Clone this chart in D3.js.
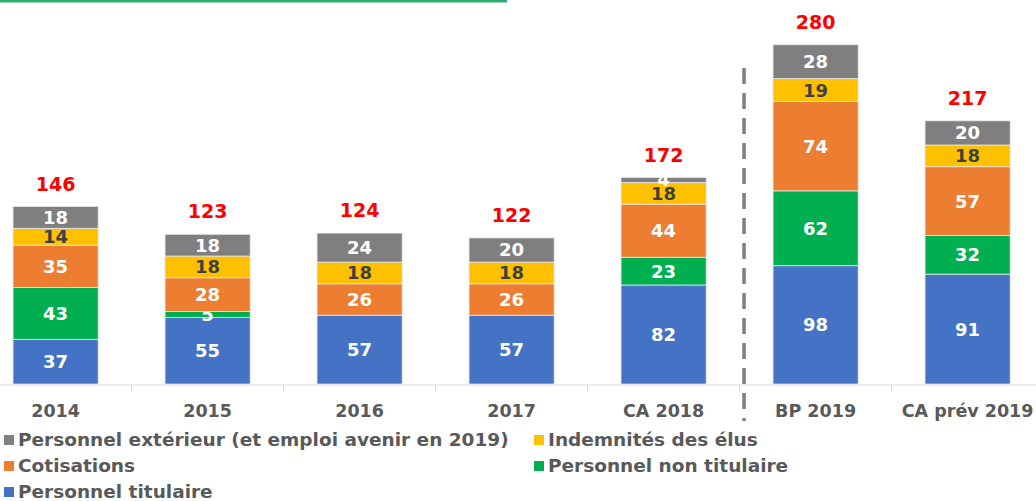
<!DOCTYPE html>
<html>
<head>
<meta charset="utf-8">
<script src="https://cdn.jsdelivr.net/npm/d3@7"></script>
<style>
  body { margin: 0; background: #fff; }
  svg { display: block; }
</style>
</head>
<body>
<script>
// Data
let categories = ['2014', '2015', '2016', '2017', 'CA 2018', 'BP 2019', 'CA prév 2019'];
let titulaire = [37, 55, 57, 57, 82, 98, 91];
let nonTitulaire = [43, 5, 0, 0, 23, 62, 32];
let cotisations = [35, 28, 26, 26, 44, 74, 57];
let indemnites = [14, 18, 18, 18, 18, 19, 18];
let exterieur = [18, 18, 24, 20, 4, 28, 20];
let totals = [146, 123, 124, 122, 172, 280, 217];

let seriesKeys = ['titulaire', 'nonTitulaire', 'cotisations', 'indemnites', 'exterieur'];
let seriesNames = {
  titulaire: 'Personnel titulaire',
  nonTitulaire: 'Personnel non titulaire',
  cotisations: 'Cotisations',
  indemnites: 'Indemnités des élus',
  exterieur: 'Personnel extérieur (et emploi avenir en 2019)'
};
let seriesColors = {
  titulaire: '#4472c4',
  nonTitulaire: '#00b050',
  cotisations: '#ed7d31',
  indemnites: '#ffc000',
  exterieur: '#7f7f7f'
};

let table = categories.map((c, i) => ({
  cat: c,
  titulaire: titulaire[i],
  nonTitulaire: nonTitulaire[i],
  cotisations: cotisations[i],
  indemnites: indemnites[i],
  exterieur: exterieur[i]
}));

let width = 1036, height = 501;
let font = "'Century Gothic', 'DejaVu Sans', sans-serif";

let svg = d3.select('body').append('svg')
  .attr('width', width)
  .attr('height', height);

// green rule at the top (remains of the slide title)
svg.append('rect')
  .attr('x', 0).attr('y', 0)
  .attr('width', 507).attr('height', 2.5)
  .attr('fill', '#2eaa6e');

let x = d3.scaleBand()
  .domain(categories)
  .range([-20.4, 1043.6])
  .paddingInner(0.44)
  .paddingOuter(0.22);

let y = d3.scaleLinear()
  .domain([0, 280])
  .range([384, 46]);

let stack = d3.stack().keys(seriesKeys)(table);

// bars
let layers = svg.selectAll('g.layer')
  .data(stack)
  .enter()
  .append('g')
  .attr('class', 'layer')
  .attr('fill', d => seriesColors[d.key]);

layers.selectAll('rect')
  .data(d => d.filter(s => s[1] > s[0]))
  .enter()
  .append('rect')
  .attr('x', d => x(d.data.cat))
  .attr('y', d => y(d[1]))
  .attr('width', x.bandwidth())
  .attr('height', d => y(d[0]) - y(d[1]))
  .attr('stroke', '#e6e6e6')
  .attr('stroke-width', 0.8);

// segment labels
layers.each(function(layer) {
  d3.select(this).selectAll('text')
    .data(layer.filter(s => s[1] > s[0]))
    .enter()
    .append('text')
    .attr('x', d => x(d.data.cat) + x.bandwidth() / 2)
    .attr('y', d => (y(d[0]) + y(d[1])) / 2)
    .attr('dy', '0.36em')
    .attr('text-anchor', 'middle')
    .attr('font-family', font)
    .attr('font-weight', 'bold')
    .attr('font-size', '18px')
    .attr('fill', layer.key === 'indemnites' ? '#404040' : '#fff')
    .text(d => d.data[layer.key]);
});

// totals above bars
svg.selectAll('text.total')
  .data(table)
  .enter()
  .append('text')
  .attr('class', 'total')
  .attr('x', d => x(d.cat) + x.bandwidth() / 2)
  .attr('y', d => y(d3.sum(seriesKeys, k => d[k])) - 16)
  .attr('text-anchor', 'middle')
  .attr('font-family', font)
  .attr('font-weight', 'bold')
  .attr('font-size', '19px')
  .attr('fill', '#ff0000')
  .text((d, i) => totals[i]);

// x axis
let axis = svg.append('g')
  .attr('transform', 'translate(0,384.5)')
  .call(d3.axisBottom(x).tickSize(0).tickSizeOuter(0).tickPadding(20));
axis.select('.domain').attr('stroke', '#d9d9d9');
axis.selectAll('text')
  .attr('font-family', font)
  .attr('font-weight', 'bold')
  .attr('font-size', '17.5px')
  .attr('fill', '#595959');

// boundary ticks between categories
axis.selectAll('line.sep')
  .data(categories.slice(1))
  .enter()
  .append('line')
  .attr('class', 'sep')
  .attr('x1', d => x(d) - x.step() * x.paddingInner() / 2)
  .attr('x2', d => x(d) - x.step() * x.paddingInner() / 2)
  .attr('y1', 0)
  .attr('y2', 7)
  .attr('stroke', '#d9d9d9');

// dashed separator between realised and budget
let sepX = x('BP 2019') - 29;
svg.append('line')
  .attr('x1', sepX).attr('x2', sepX)
  .attr('y1', 68).attr('y2', 421)
  .attr('stroke', '#7f7f7f')
  .attr('stroke-width', 3.5)
  .attr('stroke-dasharray', '16,9');

// legend
let legendItems = [
  { key: 'exterieur', col: 0, row: 0 },
  { key: 'indemnites', col: 1, row: 0 },
  { key: 'cotisations', col: 0, row: 1 },
  { key: 'nonTitulaire', col: 1, row: 1 },
  { key: 'titulaire', col: 0, row: 2 }
];
let legend = svg.selectAll('g.legend')
  .data(legendItems)
  .enter()
  .append('g')
  .attr('class', 'legend')
  .attr('transform', d => `translate(${d.col ? 534 : 4},${440 + d.row * 26})`);

legend.append('rect')
  .attr('x', 0).attr('y', -5)
  .attr('width', 10).attr('height', 10)
  .attr('fill', d => seriesColors[d.key]);

legend.append('text')
  .attr('x', 14)
  .attr('dy', '0.35em')
  .attr('font-family', font)
  .attr('font-weight', 'bold')
  .attr('font-size', '18.5px')
  .attr('fill', '#595959')
  .text(d => seriesNames[d.key]);
</script>
</body>
</html>
